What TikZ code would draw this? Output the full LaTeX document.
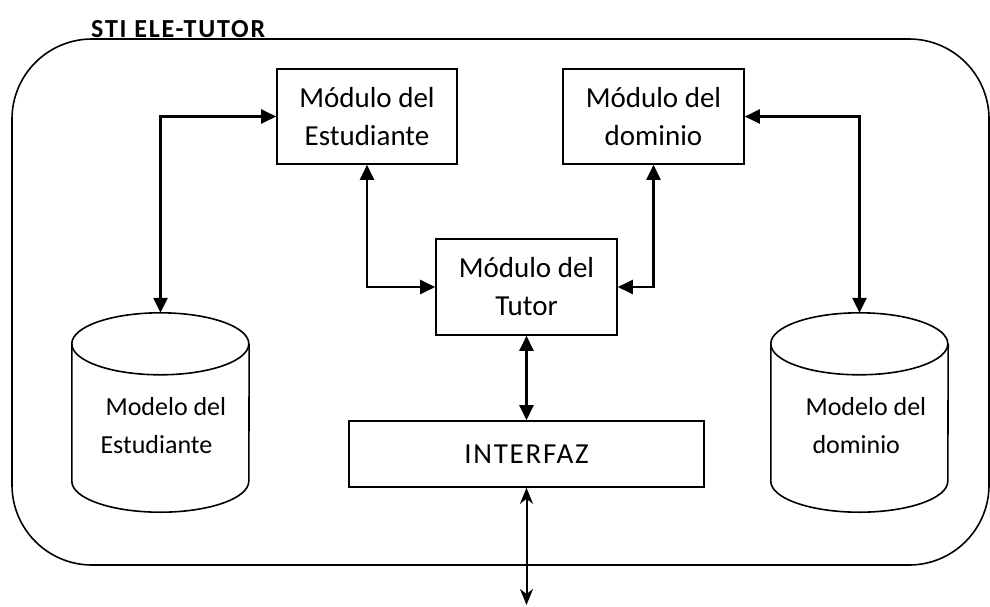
\documentclass[tikz,border=0pt]{standalone}
\usepackage{fontspec}
\setmainfont{Carlito}
\usetikzlibrary{positioning, shapes.geometric, arrows.meta, calc}

\begin{document}
\begin{tikzpicture}[x=1pt, y=-1pt,
  box/.style={draw, line width=1.6pt, minimum width=181pt, minimum height=96pt, align=center, inner sep=0pt,
              font=\fontsize{29}{38}\selectfont},
  dbbox/.style={minimum width=177pt, minimum height=199pt, inner sep=0pt},
  dbline/.style={line width=1.6pt},
  dbtxt/.style={align=left, font=\fontsize{26}{38}\selectfont},
  arr/.style={{Triangle[length=15pt, width=14pt]}-{Triangle[length=15pt, width=14pt]}, line width=2.4pt},
  io/.style={{Stealth[length=16pt, width=13pt, inset=5pt]}-{Stealth[length=16pt, width=13pt, inset=5pt]}, line width=2pt}
]
  \useasboundingbox (0,0) rectangle (990,606);

  % system frame
  \draw[line width=1.6pt, rounded corners=80pt] (12,39) rectangle (989,565);
  \node[anchor=base west, inner sep=0pt, font=\fontsize{26}{30}\selectfont\bfseries\addfontfeature{LetterSpace=7}] (title) at (91,37) {STI ELE-TUTOR};

  % modules
  \node[box, minimum width=180pt, minimum height=95pt] (est) at (367,116.5) {Módulo del\\Estudiante};
  \node[box, minimum height=95pt] (dom) at (653.5,116.5) {Módulo del\\dominio};
  \node[box] (tut) at (526.5,287) {Módulo del\\Tutor};
  \node[box, minimum width=355pt, minimum height=66pt, font=\fontsize{29}{38}\selectfont\addfontfeature{LetterSpace=6}] (intf) at (526.5,454) {INTERFAZ};

  % models (cylinders drawn round their boxes)
  \node[dbbox] (cylL) at (160.5,412.5) {};
  \node[dbbox] (cylR) at (859.5,412.5) {};
  \foreach \c in {cylL,cylR} {
    \draw[dbline] ($(\c.north west)+(0,31)$) arc[start angle=180, end angle=-180, x radius=88.5pt, y radius=31pt];
    \draw[dbline] ($(\c.north west)+(0,31)$) -- ($(\c.south west)+(0,-31)$)
      arc[start angle=180, end angle=360, x radius=88.5pt, y radius=31pt] -- ($(\c.north east)+(0,31)$);
  }
  \node[dbtxt, anchor=north west] (txtL) at (97,394) {\hspace*{5pt}Modelo del\\Estudiante};
  \node[dbtxt, anchor=north west] (txtR) at (802,394) {Modelo del\\\hspace*{7pt}dominio};

  \coordinate (ext) at (526.5,605);

  \draw[arr] (est.west) -| (cylL.north);
  \draw[arr] (est.south) |- (tut.west);
  \draw[arr] (dom.south) |- (tut.east);
  \draw[arr] (dom.east) -| (cylR.north);
  \draw[arr] (tut.south) -- (intf.north);
  \draw[io] (intf.south) -- (ext);
\end{tikzpicture}
\end{document}
